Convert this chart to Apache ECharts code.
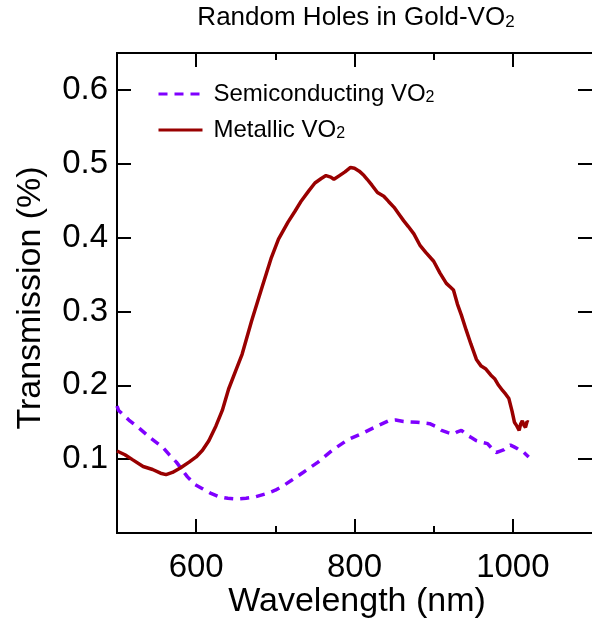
<!DOCTYPE html>
<html>
<head>
<meta charset="utf-8">
<script src="https://cdn.jsdelivr.net/npm/echarts@6/dist/echarts.min.js"></script>
<style>html,body{margin:0;padding:0;background:#fff}#c{width:592px;height:644px}</style>
</head>
<body>
<div id="c"></div>
<script>
// ---- data ----
const metallicX = [500,510,520,533,545,555,562,570,580,591,600,608,616,625,633,641,650,658,670,683,695,704,716,725,733,742,750,758,764,770,774,781,788,795,800,806,812,816,822,829,837,843,850,856,862,868,875,883,890,900,908,916,921,925,930,935,941,947,954,960,966,972,977,982,987,991,995,999,1002,1005,1008,1010,1012,1014,1016,1018,1020];
const metallicY = [0.111,0.106,0.099,0.090,0.086,0.081,0.079,0.082,0.088,0.096,0.103,0.112,0.125,0.145,0.166,0.195,0.220,0.242,0.287,0.332,0.373,0.398,0.421,0.436,0.450,0.463,0.474,0.480,0.484,0.482,0.479,0.484,0.489,0.495,0.494,0.490,0.484,0.479,0.471,0.461,0.456,0.449,0.441,0.432,0.423,0.415,0.405,0.389,0.380,0.368,0.352,0.338,0.333,0.329,0.310,0.295,0.275,0.256,0.235,0.226,0.222,0.214,0.209,0.200,0.193,0.188,0.182,0.165,0.150,0.145,0.139,0.148,0.152,0.146,0.143,0.151,0.150];
const semiX = [500,502,515,529,543,558,566,575,582,589,598,608,618,629,640,652,663,675,688,700,710,720,735,754,772,791,810,829,843,852,862,879,895,903,910,918,925,930,935,943,948,954,960,968,974,979,984,989,993,997,1001,1006,1010,1014,1017,1020];
const semiY = [0.172,0.166,0.153,0.141,0.128,0.116,0.106,0.096,0.086,0.076,0.066,0.060,0.054,0.049,0.047,0.046,0.047,0.049,0.053,0.058,0.064,0.071,0.082,0.096,0.112,0.126,0.135,0.145,0.152,0.153,0.151,0.150,0.148,0.144,0.139,0.136,0.134,0.137,0.139,0.132,0.129,0.125,0.123,0.121,0.114,0.109,0.111,0.113,0.117,0.119,0.117,0.114,0.111,0.109,0.106,0.103];
const xMajorTicks = [600, 800, 1000];
const xMinorTicks = [700, 900];
const yTicks = [0.1, 0.2, 0.3, 0.4, 0.5, 0.6];

const FONT = 'Liberation Sans, Arial, Helvetica, sans-serif';
const zip = (xs, ys) => xs.map((x, i) => [x, ys[i]]);

const chart = echarts.init(document.getElementById('c'), null, {renderer: 'canvas'});

function xAx(pos, ticks, len, labels) {
  return {
    type: 'value', position: pos, min: 500, max: 1100,
    axisLine: {show: true, onZero: false, lineStyle: {color: '#000', width: 2}},
    axisTick: {show: true, inside: true, length: len, customValues: ticks, lineStyle: {color: '#000', width: 2}},
    axisLabel: labels ? {show: true, customValues: ticks, fontSize: 33, fontFamily: FONT, color: '#000', margin: 18,
      formatter: v => String(v)} : {show: false},
    splitLine: {show: false}
  };
}
function yAx(pos, labels) {
  return {
    type: 'value', position: pos, min: 0, max: 0.65,
    axisLine: {show: labels, onZero: false, lineStyle: {color: '#000', width: 2}},
    axisTick: {show: true, inside: true, length: 14, customValues: yTicks, lineStyle: {color: '#000', width: 2}},
    axisLabel: labels ? {show: true, customValues: yTicks, fontSize: 33, fontFamily: FONT, color: '#000', margin: 9,
      formatter: v => v.toFixed(1)} : {show: false},
    splitLine: {show: false}
  };
}

chart.setOption({
  animation: false,
  backgroundColor: '#fff',
  grid: {left: 117, right: -8, top: 53, bottom: 111, containLabel: false},
  xAxis: [
    xAx('bottom', xMajorTicks, 14, true),
    xAx('bottom', xMinorTicks, 7, false),
    xAx('top', xMajorTicks, 14, false),
    xAx('top', xMinorTicks, 7, false)
  ],
  yAxis: [yAx('left', true), yAx('right', false)],
  legend: {
    show: true, orient: 'vertical', left: 157, top: 82, padding: 0,
    itemWidth: 44, itemHeight: 24, itemGap: 12,
    itemStyle: {opacity: 0},
    lineStyle: {width: 3},
    data: ['Semiconducting VO2', 'Metallic VO2'],
    formatter: name => '{a|' + name.slice(0, -1) + '}{s|2}',
    textStyle: {
      padding: [0, 0, 0, 6],
      rich: {
        a: {fontSize: 24, fontFamily: FONT, color: '#000', lineHeight: 24},
        s: {fontSize: 16, fontFamily: FONT, color: '#000', lineHeight: 14, verticalAlign: 'bottom'}
      }
    }
  },
  graphic: [
    {type: 'text', x: 356, y: 18, style: {
      text: '{a|Random Holes in Gold-VO}{s|2}', align: 'center', verticalAlign: 'middle',
      rich: {
        a: {fontSize: 26, fontFamily: FONT, fill: '#000', lineHeight: 26},
        s: {fontSize: 17, fontFamily: FONT, fill: '#000', lineHeight: 14, verticalAlign: 'bottom'}
      }
    }},
    {type: 'text', x: 357, y: 602, style: {text: 'Wavelength (nm)', fontSize: 34, fontFamily: FONT, fill: '#000', align: 'center', verticalAlign: 'middle'}},
    {type: 'text', x: 31, y: 298, rotation: Math.PI / 2, style: {text: 'Transmission (%)', fontSize: 34, fontFamily: FONT, fill: '#000', align: 'center', verticalAlign: 'middle'}}
  ],
  series: [
    {name: 'Semiconducting VO2', type: 'line', xAxisIndex: 0, yAxisIndex: 0, data: zip(semiX, semiY),
      showSymbol: false, symbol: 'none', smooth: false, color: '#7f00ff',
      lineStyle: {color: '#7f00ff', width: 3.5, type: [9, 7]}},
    {name: 'Metallic VO2', type: 'line', xAxisIndex: 0, yAxisIndex: 0, data: zip(metallicX, metallicY),
      showSymbol: false, symbol: 'none', smooth: false, color: '#990000',
      lineStyle: {color: '#990000', width: 3.5}}
  ]
});
</script>
</body>
</html>
